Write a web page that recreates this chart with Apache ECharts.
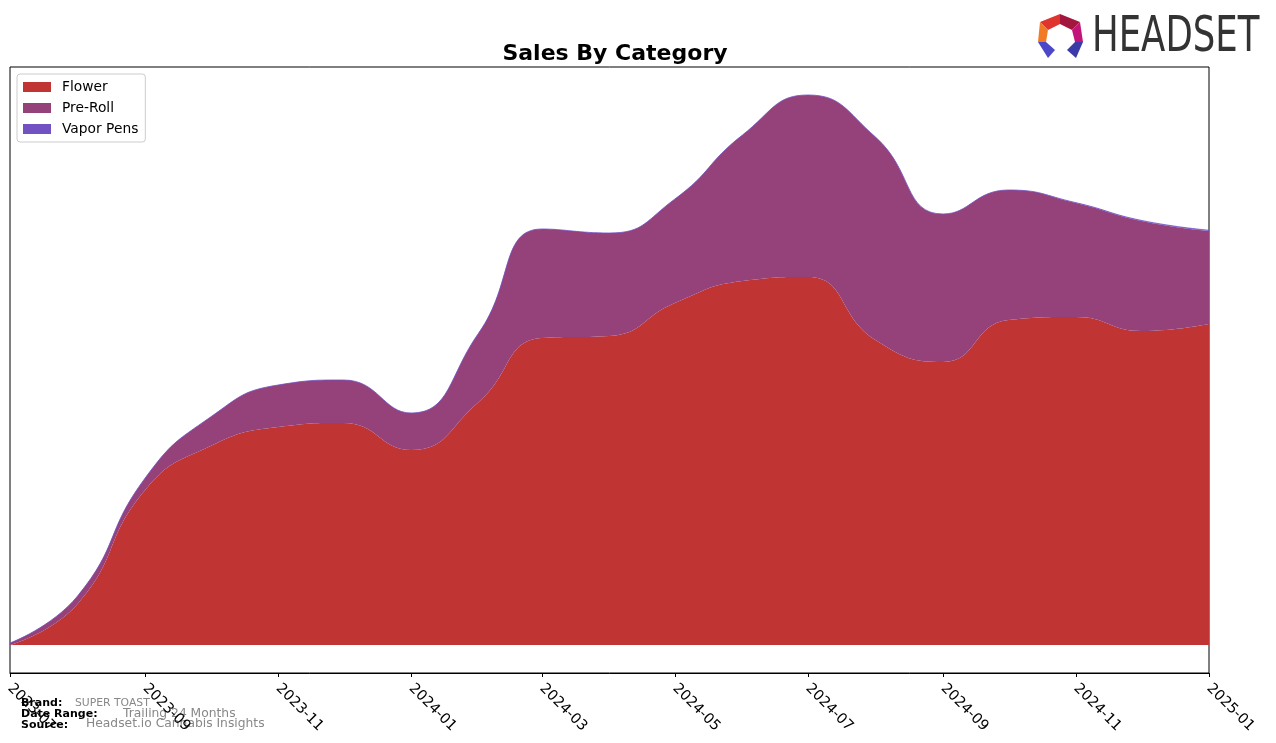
<!DOCTYPE html>
<html>
<head>
<meta charset="utf-8">
<script src="https://cdn.jsdelivr.net/npm/echarts@6/dist/echarts.min.js"></script>
<style>
  html, body { margin: 0; padding: 0; background: #fff; }
  #chart { width: 1276px; height: 743px; }
</style>
</head>
<body>
<div id="chart"></div>
<script>
// ---- data ----
const months = ['2023-07-01','2023-08-01','2023-09-01','2023-10-01','2023-11-01','2023-12-01',
  '2024-01-01','2024-02-01','2024-03-01','2024-04-01','2024-05-01','2024-06-01','2024-07-01',
  '2024-08-01','2024-09-01','2024-10-01','2024-11-01','2024-12-01','2025-01-01'];
const flower    = [0, 4100, 15500, 19900, 21800, 22200, 19500, 24300, 30700, 30900, 34200, 36400, 36800, 30500, 28300, 32500, 32800, 31400, 32100];
const preRoll   = [200, 800, 1200, 2900, 4200, 4300, 3700, 6900, 10900, 10300, 10400, 14600, 18200, 20300, 14800, 13000, 11400, 11000, 9300];
const vaporPens = [0, 0, 0, 0, 0, 0, 0, 0, 0, 0, 0, 0, 0, 0, 0, 0, 30, 60, 80];
const seriesNames = ['Flower', 'Pre-Roll', 'Vapor Pens'];
const colors = ['#c03434', '#95417a', '#7251c2'];

const pairs = arr => months.map((m, i) => [m, arr[i]]);
const seriesData = [flower, preRoll, vaporPens];

const chart = echarts.init(document.getElementById('chart'), null, { renderer: 'canvas' });

const series = seriesNames.map((name, i) => ({
  name,
  type: 'line',
  stack: 'total',
  smooth: 0.5,
  symbol: 'none',
  lineStyle: { width: i === 2 ? 0.8 : 0, color: colors[i] },
  areaStyle: { color: colors[i], opacity: 1 },
  itemStyle: { color: colors[i] },
  emphasis: { disabled: true },
  data: pairs(seriesData[i])
}));

const fam = 'DejaVu Sans';
const logoX = 1038, logoY = 14;
const P = pts => pts.map(p => [p[0] + logoX, p[1] + logoY]);

chart.setOption({
  animation: false,
  backgroundColor: '#fff',
  title: {
    text: 'Sales By Category',
    left: 610, top: 38, textAlign: 'center',
    textStyle: { fontFamily: fam, fontSize: 22, fontWeight: 'bold', color: '#000' }
  },
  legend: {
    left: 17, top: 74, orient: 'vertical',
    data: seriesNames,
    icon: 'rect', itemWidth: 28, itemHeight: 10, itemGap: 7,
    padding: [6, 7, 6, 6],
    backgroundColor: '#fff', borderColor: '#cccccc', borderWidth: 1, borderRadius: 3,
    textStyle: { fontFamily: fam, fontSize: 13.8, color: '#000', lineHeight: 14, padding: [0, 0, 0, 6] },
    selectedMode: false
  },
  grid: {
    left: 10, right: 67, top: 67, bottom: 70,
    show: true, borderColor: '#000', borderWidth: 1, backgroundColor: 'transparent'
  },
  xAxis: {
    type: 'time',
    min: '2023-07-01', max: '2025-01-01',
    splitNumber: 8,
    axisLine: { show: true, onZero: false, lineStyle: { color: '#000', width: 1 } },
    axisTick: { show: true, length: 4, lineStyle: { color: '#000' } },
    splitLine: { show: false },
    axisLabel: {
      formatter: '{yyyy}-{MM}', rotate: -45, margin: 13,
      fontFamily: fam, fontSize: 14.5, color: '#000',
      showMinLabel: true, showMaxLabel: true, hideOverlap: false
    }
  },
  yAxis: {
    type: 'value', min: -2800, max: 57800,
    axisLine: { show: false }, axisTick: { show: false },
    axisLabel: { show: false }, splitLine: { show: false }
  },
  series,
  graphic: [
    { type: 'text', left: 21, top: 698, style: { text: 'Brand:', font: 'bold 11px DejaVu Sans', fill: '#000' } },
    { type: 'text', left: 75, top: 698, style: { text: 'SUPER TOAST', font: '10.8px DejaVu Sans', fill: '#888' } },
    { type: 'text', left: 21, top: 709, style: { text: 'Date Range:', font: 'bold 11px DejaVu Sans', fill: '#000' } },
    { type: 'text', left: 123, top: 708, style: { text: 'Trailing 24 Months', font: '12.3px DejaVu Sans', fill: '#888' } },
    { type: 'text', left: 21, top: 720, style: { text: 'Source:', font: 'bold 11px DejaVu Sans', fill: '#000' } },
    { type: 'text', left: 86, top: 718, style: { text: 'Headset.io Cannabis Insights', font: '12.3px DejaVu Sans', fill: '#888' } },
    // logo icon
    { type: 'polygon', shape: { points: P([[2,8],[22,0],[22,10],[10,16]]) }, style: { fill: '#e0342e' } },
    { type: 'polygon', shape: { points: P([[22,0],[42,8],[34,16],[22,10]]) }, style: { fill: '#a3173f' } },
    { type: 'polygon', shape: { points: P([[42,8],[45,28],[37,28],[34,16]]) }, style: { fill: '#c2157a' } },
    { type: 'polygon', shape: { points: P([[2,8],[10,16],[8,28],[0,28]]) }, style: { fill: '#f27a24' } },
    { type: 'polygon', shape: { points: P([[0,28],[8,28],[17,36],[10,44]]) }, style: { fill: '#4b47c9' } },
    { type: 'polygon', shape: { points: P([[37,28],[45,28],[38,44],[29,36]]) }, style: { fill: '#3a3aa8' } },
    { type: 'text', left: 1092, top: 13, scaleX: 0.71,
      style: { text: 'HEADSET', font: '50px DejaVu Sans', fill: '#333' } }
  ]
});
</script>
</body>
</html>
